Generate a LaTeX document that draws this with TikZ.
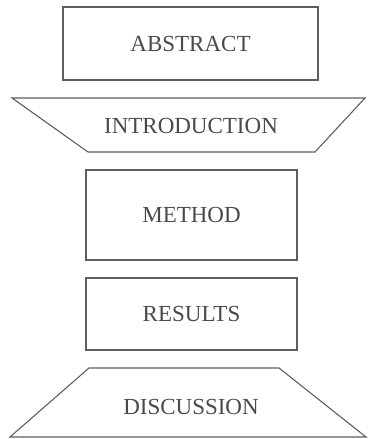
\documentclass[tikz,border=0pt]{standalone}
\usepackage{fontspec}
\setmainfont{Liberation Serif}
\definecolor{linegray}{HTML}{5E5E5E}
\definecolor{textgray}{HTML}{4A4A4A}
\begin{document}
\begin{tikzpicture}[x=1pt,y=-1pt,
  box/.style={draw=linegray,line width=1.1pt,inner sep=0pt,text=textgray,font=\fontsize{23}{25}\selectfont},
  lbl/.style={text=textgray,inner sep=0pt,font=\fontsize{23}{25}\selectfont},
  shape line/.style={draw=linegray,line width=1.1pt,line join=miter}]
\useasboundingbox (0,0) rectangle (367,439);
\node[box,minimum width=255pt,minimum height=73pt] (abstract) at (190.5,43.5) {ABSTRACT};
\path[shape line] (12,98) -- (365,98) -- (315,152) -- (88,152) -- cycle;
\node[lbl] (intro) at (191,126) {INTRODUCTION};
\node[box,minimum width=211pt,minimum height=90pt] (method) at (191.5,215) {METHOD};
\node[box,minimum width=211pt,minimum height=72pt] (results) at (191.5,314) {RESULTS};
\path[shape line] (89,368) -- (279,368) -- (366,437) -- (10,437) -- cycle;
\node[lbl] (discussion) at (191,407) {DISCUSSION};
\end{tikzpicture}
\end{document}
